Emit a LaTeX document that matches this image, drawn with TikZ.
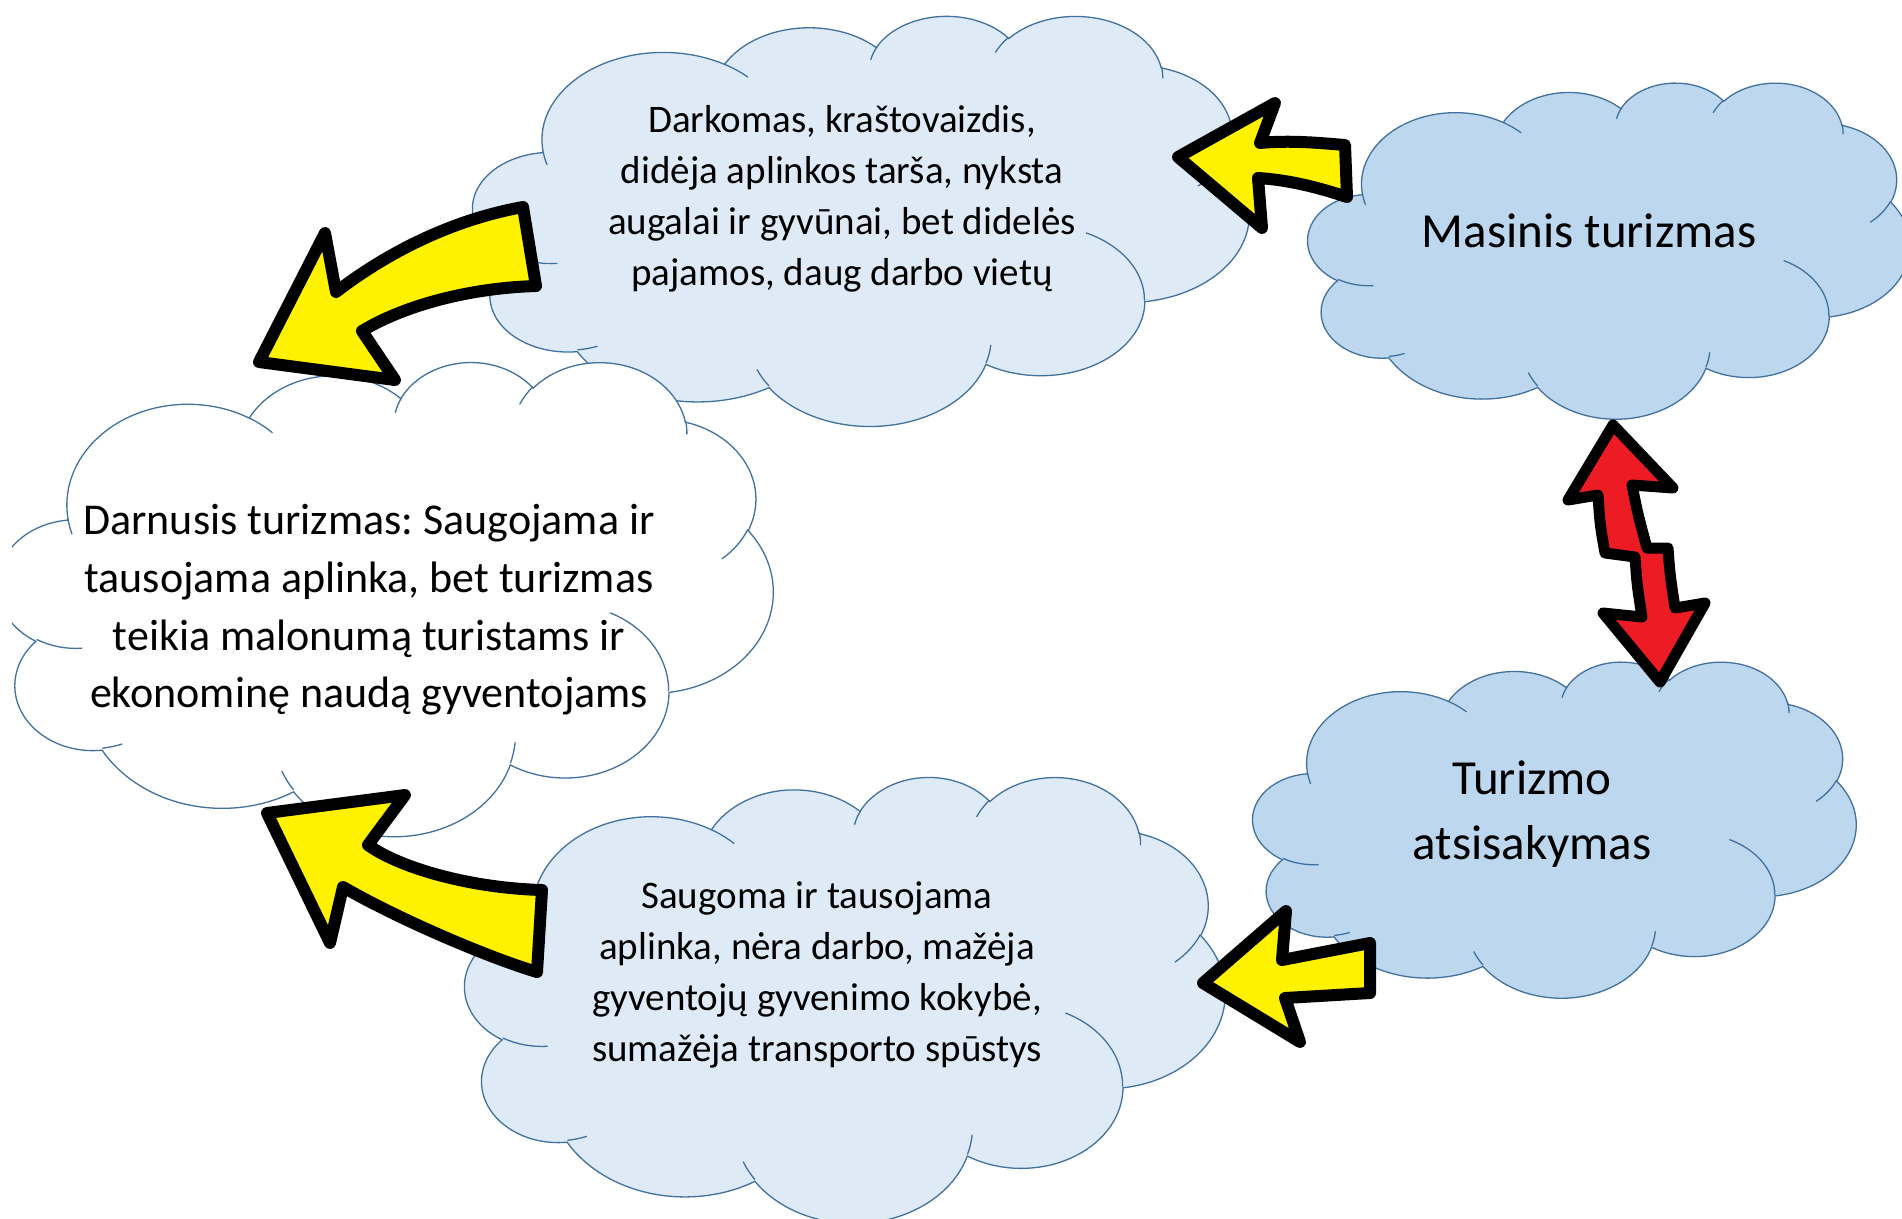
\documentclass[tikz,border=0pt]{standalone}
\usepackage{fontspec}
\setmainfont{Carlito}
\frenchspacing
\definecolor{cloudlight}{HTML}{DEEBF7}
\definecolor{clouddark}{HTML}{BDD7EE}
\definecolor{cloudedge}{HTML}{41719C}
\definecolor{arrowyellow}{HTML}{FFF200}
\definecolor{arrowred}{HTML}{ED1C24}

% elliptical arc in the DrawingML arcTo convention (geometric angles)
\newcommand\clacalc[4]{%
  \pgfmathparse{atan2(#1*sin(#3),#2*cos(#3))}\xdef\clas{\pgfmathresult}%
  \pgfmathparse{atan2(#1*sin(#3+#4),#2*cos(#3+#4))}\let\clatmp\pgfmathresult
  \pgfmathparse{\clatmp+360*round((\clas+#4-\clatmp)/360)}\xdef\clae{\pgfmathresult}}
\newcommand\cla[4]{\pgfextra{\clacalc{#1}{#2}{#3}{#4}} arc[start angle=\clas, end angle=\clae, x radius=#1, y radius=#2]}

\def\cloudouter{(39.00,143.70)
 \cla{67.53}{91.90}{-190.4875}{123.7805}
 \cla{53.33}{72.67}{-144.1024}{89.9452}
 \cla{43.65}{59.45}{-145.8079}{99.7230}
 \cla{48.57}{65.95}{-130.9861}{117.2417}
 \cla{53.33}{72.73}{-78.7089}{109.0269}
 \cla{67.75}{92.20}{-46.2673}{130.269}
 \cla{57.85}{78.67}{0.625}{114.0333}
 \cla{67.52}{92.15}{22.4516}{115.1726}
 \cla{77.20}{105.43}{66.2426}{75.711}
 \cla{43.60}{59.18}{-274.942}{146.7356}
 \cla{43.45}{59.45}{-246.8285}{152.5189} -- cycle}
\def\cloudinner{(46.93,261.77) \cla{43.45}{59.45}{86.742}{26.4295}
 (69.28,348.99) \cla{43.60}{59.18}{73.6105}{11.4475}
 (164.78,390.90) \cla{67.52}{92.15}{137.624}{14.0811}
 (288.27,347.51) \cla{67.52}{92.15}{6.4533}{15.9984}
 (341.29,229.54) \cla{57.85}{78.67}{-70.2924}{70.9174}
 (417.98,153.54) \cla{53.33}{72.73}{30.318}{27.7515}
 (383.24,54.26) \cla{48.57}{65.95}{-13.7443}{14.8589}
 (290.78,39.52) \cla{48.57}{65.95}{-149.1815}{18.1954}
 (221.41,47.20) \cla{43.65}{59.45}{-163.4943}{17.6864}
 (140.00,51.92) \cla{67.53}{91.90}{-66.707}{12.3194}
 (41.27,157.89) \cla{67.53}{91.90}{157.654}{11.858}}

\newcommand\wordcloud[5]{%
  \begin{scope}[shift={(#1,#2)}, xscale=#3/432, yscale=#4/432]
    \path[fill=#5, cloudline] \cloudouter;
    \path[cloudline] \cloudinner;
  \end{scope}}

\tikzset{
  cloudline/.style={draw=cloudedge, line width=1.3bp},
  blockarrow/.style={draw=black, line width=12bp, line join=round, fill=arrowyellow},
  redarrow/.style={draw=black, line width=11bp, line join=round, fill=arrowred},
  txtsmall/.style={align=center, inner sep=0pt, font=\fontsize{39bp}{51bp}\selectfont},
  txtmid/.style={align=center, inner sep=0pt, font=\fontsize{44bp}{57.6bp}\selectfont},
  txtbig/.style={align=center, inner sep=0pt, font=\fontsize{49bp}{65bp}\selectfont}
}

\begin{document}
\begin{tikzpicture}[x=1bp, y=-1bp]
\useasboundingbox (0,0) rectangle (1902,1218);
\fill[white] (0,0) rectangle (1902,1218);
\clip (0,0) rectangle (1902,1218);

% clouds
\wordcloud{473}{15}{776}{410}{cloudlight}
\wordcloud{1308}{82}{602}{336}{clouddark}
\wordcloud{465}{776}{760}{446}{cloudlight}
\wordcloud{1253}{661}{603}{336}{clouddark}
\begin{scope}
  \clip (12,0) rectangle (1902,1218);
  \wordcloud{-2}{361}{775}{474}{white}
\end{scope}

% texts
\node[txtsmall] (darkomas) at (842,199) {Darkomas, kraštovaizdis,\\didėja aplinkos tarša, nyksta\\augalai ir gyvūnai, bet didelės\\pajamos, daug darbo vietų};
\node[txtbig] (masinis) at (1589,231) {Masinis turizmas};
\node[txtmid] (darnusis) at (369,610) {Darnusis turizmas: Saugojama ir\\tausojama aplinka, bet turizmas\\teikia malonumą turistams ir\\ekonominę naudą gyventojams};
\node[txtbig] (atsisakymas) at (1532,814) {Turizmo\\atsisakymas};
\node[txtsmall] (saugoma) at (817,975) {Saugoma ir tausojama\\aplinka, nėra darbo, mažėja\\gyventojų gyvenimo kokybė,\\sumažėja transporto spūstys};

% arrows
\draw[blockarrow] (523,207) -- (536,286) .. controls (470,288) and (405,305) .. (362,331)
  -- (395,380) -- (259,362) -- (325,233) -- (336,292)
  .. controls (375,262) and (440,222) .. (523,207) -- cycle;
\draw[blockarrow] (1178,157) -- (1275,103) -- (1260,143)
  .. controls (1290,140) and (1320,143) .. (1345,145) -- (1347,197)
  .. controls (1320,188) and (1290,180) .. (1258,178) -- (1262,228) -- cycle;
\draw[blockarrow] (267,813) -- (405,795) -- (368,845)
  .. controls (400,868) and (470,888) .. (542,890) -- (537,972)
  .. controls (490,958) and (400,920) .. (343,887) -- (330,943) -- cycle;
\draw[blockarrow] (1203,983) -- (1286,911) -- (1282,960) -- (1370,943)
  -- (1370,993) -- (1285,998) -- (1300,1042) -- cycle;
\draw[redarrow] (1613,425) -- (1673,488) -- (1632,485)
  .. controls (1638,515) .. (1647,548) -- (1668,548)
  .. controls (1670,575) .. (1675,608) -- (1705,603) -- (1660,682)
  -- (1603,613) -- (1642,617) .. controls (1637,585) .. (1635,557)
  -- (1605,553) .. controls (1600,525) .. (1598,495) -- (1568,500) -- cycle;
\end{tikzpicture}
\end{document}
